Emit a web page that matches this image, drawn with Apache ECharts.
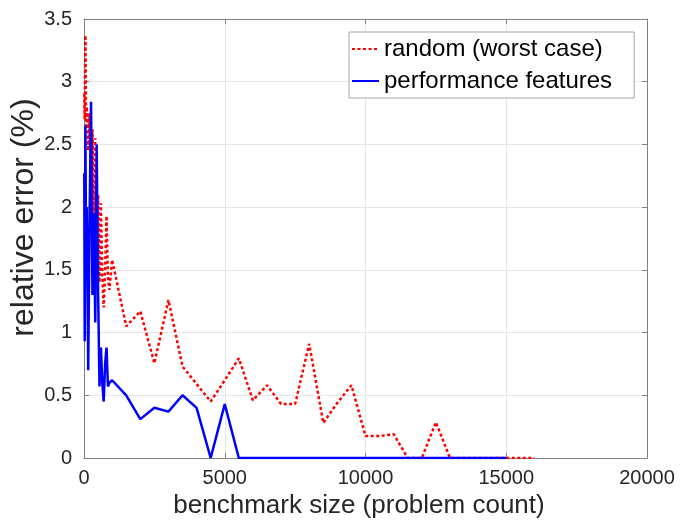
<!DOCTYPE html>
<html>
<head>
<meta charset="utf-8">
<script src="https://cdn.jsdelivr.net/npm/echarts@6/dist/echarts.min.js"></script>
<style>
  html, body { margin: 0; padding: 0; background: #fff; }
  #chart { width: 680px; height: 523px; }
</style>
</head>
<body>
<div id="chart"></div>
<script>
// benchmark sizes (problem count)
const sizesRandom = [10, 25, 50, 75, 100, 150, 200, 250, 300, 350, 400, 450, 500, 550, 600, 650, 700, 750, 800, 850, 900, 1000,
  1500, 2000, 2500, 3000, 3500, 4000, 4500, 5000, 5500, 6000, 6500, 7000, 7500, 8000, 8500, 9000, 9500, 10000,
  10500, 11000, 11500, 12000, 12500, 13000, 13500, 14000, 14500, 15000, 15500, 16000];
const errRandom = [2.9, 2.7, 3.37, 2.65, 2.8, 2.45, 2.75, 1.95, 2.62, 1.9, 2.55, 1.5, 2.1, 1.4, 2.03, 1.45, 1.2, 1.5, 1.93, 1.45, 1.34, 1.58,
  1.05, 1.17, 0.755, 1.26, 0.73, 0.59, 0.45, 0.62, 0.795, 0.46, 0.58, 0.43, 0.43, 0.91, 0.28, 0.44, 0.58, 0.175,
  0.175, 0.19, 0, 0, 0.285, 0, 0, 0, 0, 0, 0, 0];

const sizesFeatures = [10, 25, 50, 75, 100, 150, 200, 250, 300, 350, 400, 450, 500, 550, 600, 650, 700, 750, 800, 850, 900, 1000,
  1500, 2000, 2500, 3000, 3500, 4000, 4500, 5000, 5500, 6000, 6500, 7000, 7500, 8000, 8500, 9000, 9500, 10000,
  10500, 11000, 11500, 12000, 12500, 13000, 13500, 14000, 14500, 15000];
const errFeatures = [2.27, 0.93, 2.65, 1.5, 2.0, 0.7, 1.95, 2.84, 1.3, 1.95, 1.08, 2.5, 1.35, 0.57, 0.88, 0.6, 0.45, 0.75, 0.88, 0.57, 0.6, 0.62,
  0.5, 0.31, 0.4, 0.37, 0.5, 0.4, 0, 0.43, 0, 0, 0, 0, 0, 0, 0, 0, 0, 0,
  0, 0, 0, 0, 0, 0, 0, 0, 0, 0];

const seriesNames = ['random (worst case)', 'performance features'];
const xLabel = 'benchmark size (problem count)';
const yLabel = 'relative error (%)';

const font = 'Liberation Sans, Helvetica, Arial, sans-serif';
const textColor = '#262626';
const axisColor = '#808080';

const chart = echarts.init(document.getElementById('chart'), null, { renderer: 'canvas' });

const zip = (xs, ys) => xs.map((x, i) => [x, ys[i]]);

const boxAxis = {
  axisLine: { show: true, onZero: false, lineStyle: { color: axisColor, width: 1 } },
  axisTick: { show: true, inside: true, length: 5, lineStyle: { color: axisColor } },
};

chart.setOption({
  backgroundColor: '#fff',
  animation: false,
  grid: { left: 84, right: 33, top: 19, bottom: 65, containLabel: false, outerBoundsMode: 'none' },
  legend: {
    orient: 'vertical',
    left: 349,
    top: 32,
    data: seriesNames,
    backgroundColor: '#fff',
    borderColor: '#a6a6a6',
    borderWidth: 1,
    padding: [3, 22, 3, 2],
    itemWidth: 27,
    itemHeight: 14,
    itemGap: 4,
    itemStyle: { opacity: 0 },
    textStyle: { fontFamily: font, fontSize: 24, color: '#000', lineHeight: 28 },
  },
  xAxis: [
    Object.assign({
      type: 'value', min: 0, max: 20000, interval: 5000, position: 'bottom',
      name: xLabel, nameLocation: 'middle', nameGap: 35, nameMoveOverlap: false,
      nameTextStyle: { fontFamily: font, fontSize: 26, color: textColor, padding: [0, 13, 0, 0] },
      axisLabel: { fontFamily: font, fontSize: 20, color: textColor, margin: 10, formatter: v => String(v) },
      splitLine: { show: true, lineStyle: { color: '#e6e6e6', width: 1 } },
    }, boxAxis),
    Object.assign({
      type: 'value', min: 0, max: 20000, interval: 5000, position: 'top',
      axisLabel: { show: false }, splitLine: { show: false },
    }, boxAxis),
  ],
  yAxis: [
    Object.assign({
      type: 'value', min: 0, max: 3.5, interval: 0.5, position: 'left',
      name: yLabel, nameLocation: 'middle', nameGap: 44, nameRotate: 90, nameMoveOverlap: false,
      nameTextStyle: { fontFamily: font, fontSize: 32, color: textColor, padding: [0, 0, 0, 42] },
      axisLabel: { fontFamily: font, fontSize: 20, color: textColor, margin: 12 },
      splitLine: { show: true, lineStyle: { color: '#e6e6e6', width: 1 } },
    }, boxAxis),
    Object.assign({
      type: 'value', min: 0, max: 3.5, interval: 0.5, position: 'right',
      axisLabel: { show: false }, splitLine: { show: false },
    }, boxAxis),
  ],
  series: [
    {
      name: seriesNames[0],
      type: 'line',
      data: zip(sizesRandom, errRandom),
      symbol: 'none',
      lineStyle: { color: '#ff0000', width: 2.5, type: [3, 2.5] },
      itemStyle: { color: '#ff0000' },
      z: 2,
    },
    {
      name: seriesNames[1],
      type: 'line',
      data: zip(sizesFeatures, errFeatures),
      symbol: 'none',
      lineStyle: { color: '#0000ff', width: 2.5 },
      itemStyle: { color: '#0000ff' },
      z: 3,
    },
  ],
});
</script>
</body>
</html>
